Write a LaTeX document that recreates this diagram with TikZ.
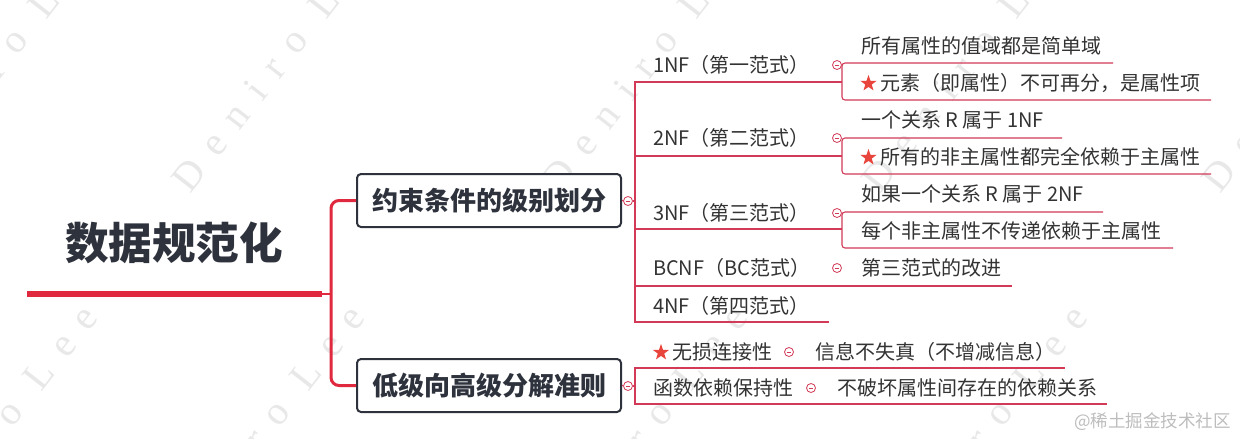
\documentclass[tikz,border=0pt]{standalone}
\usepackage{fontspec}
\setmainfont{Noto Sans CJK SC}
\newfontfamily\wmfont{Liberation Serif}[LetterSpace=42]
\usetikzlibrary{shapes.geometric}
\definecolor{mainred}{HTML}{E0283F}
\definecolor{branchred}{HTML}{D23A57}
\definecolor{boxtext}{HTML}{2E323C}
\definecolor{txt}{HTML}{333333}
\definecolor{starred}{HTML}{E8453C}
\definecolor{wm}{HTML}{E8E8E8}
\definecolor{wmtwo}{HTML}{BDBDBD}
\begin{document}
\begin{tikzpicture}[x=1pt,y=-1pt,
  lbl/.style={anchor=west, inner sep=0, outer sep=0, text=txt, font=\fontsize{20}{24}\selectfont},
  rootlbl/.style={inner sep=0, text=boxtext, font=\fontsize{43.6}{50}\selectfont\bfseries},
  boxnode/.style={draw=boxtext, line width=2pt, rounded corners=4pt, fill=white,
    minimum width=264pt, minimum height=53pt, inner sep=0, text=boxtext,
    font=\fontsize{26}{30}\selectfont\bfseries},
  fold/.style={circle, draw=branchred, line width=0.8pt, fill=white, minimum size=9pt, inner sep=0,
    path picture={\draw[branchred, line width=0.7pt]
      ([xshift=-2.3pt]path picture bounding box.center) -- ([xshift=2.3pt]path picture bounding box.center);}},
  starmark/.style={star, star points=5, star point ratio=2.5, fill=starred, draw=none,
    minimum size=17pt, inner sep=0},
  thin/.style={draw=branchred, line width=1.1pt},
  wmark/.style={anchor=base west, inner sep=0, rotate=52, text=wm, font=\wmfont\fontsize{40}{44}\selectfont},
]
\useasboundingbox[fill=white] (0,0) rectangle (1240,439);

% watermarks
\foreach \wx/\wy [count=\i] in {-90/195, 190/195, 560/195, 880/195, 1220/195, -95/567, 172/567, 555/567, 895/567, 1220/567}
  \node[wmark] (wm\i) at (\wx,\wy) {Deniro Lee};

% root
\node[rootlbl] (root) at (174,243) {数据规范化};
\coordinate (rootS) at (27,294);
\coordinate (rootE) at (322,294);
\coordinate (brJ) at (331,294);
\draw[mainred, line width=5.5pt] (rootS) -- (rootE);
\draw[mainred, line width=1.2pt] (rootE) -- (brJ);

% level 1 boxes
\node[boxnode] (box1) at (489,200.5) {约束条件的级别划分};
\node[boxnode] (box2) at (489,385.5) {低级向高级分解准则};
\coordinate (brT) at (331,200.5);
\coordinate (brB) at (331,385.5);
\draw[mainred, line width=3pt, rounded corners=8pt] (box1.west) -- (brT) -- (brB) -- (box2.west);

% folds of boxes
\node[fold] (f1) at (628,201) {};
\node[fold] (f2) at (628,386) {};

% ---- branch 1 ----
\coordinate (v1t) at (635,82);
\coordinate (v1m) at (635,201);
\coordinate (v1b) at (635,322);
\draw[thin] (box1.east) -- (f1);
\draw[thin] (f1) -- (v1m);

\node[lbl] (n1) at (653,65) {1NF（第一范式）};
\node[lbl] (n2) at (653,138) {2NF（第二范式）};
\node[lbl] (n3) at (653,213) {3NF（第三范式）};
\node[lbl] (n4) at (653,268) {BCNF（BC范式）};
\node[lbl] (n5) at (653,306) {4NF（第四范式）};

\coordinate (u1) at (842,82);
\coordinate (u2a) at (635,156); \coordinate (u2) at (842,156);
\coordinate (u3a) at (635,229); \coordinate (u3) at (842,229);
\coordinate (u4a) at (635,286); \coordinate (u4) at (1012,286);
\coordinate (u5) at (829,322);
\draw[thin] (u1) -- (v1t) -- (v1b) -- (u5);
\draw[thin] (u2a) -- (u2);
\draw[thin] (u3a) -- (u3);
\draw[thin] (u4a) -- (u4);

\node[fold] (g1) at (837,65) {};
\node[fold] (g2) at (837,138) {};
\node[fold] (g3) at (837,213) {};
\node[fold] (g4) at (837,268) {};

% children
\node[lbl] (c11) at (861,46) {所有属性的值域都是简单域};
\node[starmark] (s12) at (868.5,83.5) {};
\node[lbl] (c12) at (880,83) {元素（即属性）不可再分，是属性项};
\node[lbl] (c21) at (861,120) {一个关系 R 属于 1NF};
\node[starmark] (s22) at (868.5,157.5) {};
\node[lbl] (c22) at (880,157) {所有的非主属性都完全依赖于主属性};
\node[lbl] (c31) at (861,194) {如果一个关系 R 属于 2NF};
\node[lbl] (c32) at (861,231) {每个非主属性不传递依赖于主属性};
\node[lbl] (c41) at (861,268) {第三范式的改进};

\coordinate (k1t) at (842,63);  \coordinate (k1te) at (1113,63);
\coordinate (k1b) at (842,100); \coordinate (k1be) at (1211,100);
\coordinate (k2t) at (842,138); \coordinate (k2te) at (1062,138);
\coordinate (k2b) at (842,174); \coordinate (k2be) at (1211,174);
\coordinate (k3t) at (842,212); \coordinate (k3te) at (1103,212);
\coordinate (k3b) at (842,248); \coordinate (k3be) at (1173,248);
\draw[thin, rounded corners=3pt] (k1te) -- (k1t) -- (k1b) -- (k1be);
\draw[thin, rounded corners=3pt] (k2te) -- (k2t) -- (k2b) -- (k2be);
\draw[thin, rounded corners=3pt] (k3te) -- (k3t) -- (k3b) -- (k3be);

% ---- branch 2 ----
\coordinate (v2t) at (635,368); \coordinate (v2te) at (1065,368);
\coordinate (v2m) at (635,386);
\coordinate (v2b) at (635,404); \coordinate (v2be) at (1107,404);
\draw[thin] (box2.east) -- (f2);
\draw[thin] (f2) -- (v2m);
\draw[thin] (v2te) -- (v2t) -- (v2b) -- (v2be);

\node[starmark] (s31) at (661,352.5) {};
\node[lbl] (d1) at (672,352) {无损连接性};
\node[fold] (h1) at (789,352) {};
\node[lbl] (d1c) at (815,352) {信息不失真（不增减信息）};
\node[lbl] (d2) at (653,388) {函数依赖保持性};
\node[fold] (h2) at (811,388) {};
\node[lbl] (d2c) at (837,388) {不破坏属性间存在的依赖关系};

% site mark
\node[anchor=west, inner sep=0, text=wmtwo, font=\fontsize{17.5}{20}\selectfont] (site) at (1074,422) {@稀土掘金技术社区};
\end{tikzpicture}
\end{document}
